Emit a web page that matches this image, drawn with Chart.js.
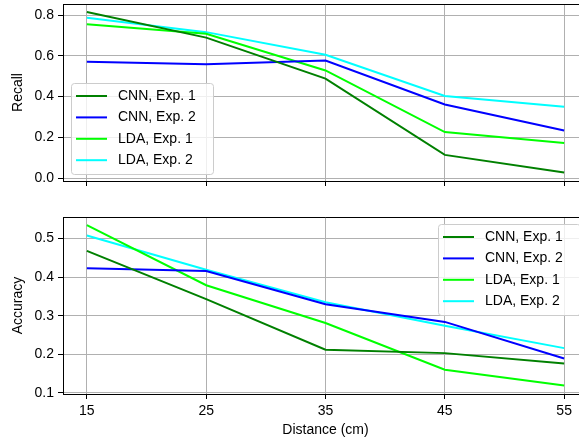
<!DOCTYPE html>
<html>
<head>
<meta charset="utf-8">
<script src="https://cdn.jsdelivr.net/npm/chart.js"></script>
<style>
  html, body { margin: 0; padding: 0; background: #fff; overflow: hidden; width: 579px; height: 443px; }
  canvas { display: block; }
</style>
</head>
<body>
<canvas id="recallChart" width="588" height="200"></canvas>
<canvas id="accChart" width="588" height="243"></canvas>
<script>
// du lieu doc tu hinh
const distances = [15, 25, 35, 45, 55];
const seriesNames = ['CNN, Exp. 1', 'CNN, Exp. 2', 'LDA, Exp. 1', 'LDA, Exp. 2'];
const seriesColors = ['#008000', '#0000ff', '#00ff00', '#00ffff'];

const recallCnn1 = [0.815, 0.689, 0.488, 0.114, 0.028];
const recallCnn2 = [0.571, 0.558, 0.577, 0.361, 0.234];
const recallLda1 = [0.755, 0.708, 0.528, 0.226, 0.172];
const recallLda2 = [0.787, 0.716, 0.605, 0.403, 0.350];

const accCnn1 = [0.468, 0.343, 0.212, 0.203, 0.176];
const accCnn2 = [0.423, 0.416, 0.330, 0.284, 0.189];
const accLda1 = [0.535, 0.379, 0.281, 0.160, 0.119];
const accLda2 = [0.508, 0.419, 0.335, 0.274, 0.216];

const recallTicks = [0.0, 0.2, 0.4, 0.6, 0.8];
const accTicks = [0.1, 0.2, 0.3, 0.4, 0.5];

Chart.defaults.font.family = "'Liberation Sans', Arial, sans-serif";
Chart.defaults.font.size = 14;
Chart.defaults.color = '#000';

function makeDatasets(lists) {
  return lists.map((vals, k) => ({
    label: seriesNames[k],
    data: distances.map((d, i) => ({ x: d, y: vals[i] })),
    borderColor: seriesColors[k],
    backgroundColor: seriesColors[k],
    borderWidth: 2,
    pointRadius: 0,
    tension: 0
  }));
}

// vien tren + phai, va chu giai trong khung
const boxPlugin = {
  id: 'boxPlugin',
  afterDatasetsDraw(chart, args, opts) {
    const ctx = chart.ctx;
    const a = chart.chartArea;
    ctx.save();
    ctx.strokeStyle = '#000';
    ctx.lineWidth = 1;
    ctx.beginPath();
    ctx.moveTo(a.left, a.top + 0.5);
    ctx.lineTo(a.right, a.top + 0.5);
    ctx.moveTo(a.right - 0.5, a.top);
    ctx.lineTo(a.right - 0.5, a.bottom);
    ctx.stroke();

    const w = 142, h = 91, rowH = 21.4;
    let left, top;
    if (opts.where === 'lowerleft') {
      left = a.left + 8;
      top = a.bottom - 7 - h;
    } else {
      left = a.right - 150;
      top = a.top + 7;
    }
    ctx.fillStyle = 'rgba(255,255,255,0.8)';
    ctx.strokeStyle = '#cccccc';
    ctx.beginPath();
    ctx.roundRect(left + 0.5, top + 0.5, w, h, 3);
    ctx.fill();
    ctx.stroke();

    ctx.font = "14px 'Liberation Sans', Arial, sans-serif";
    ctx.textBaseline = 'middle';
    ctx.textAlign = 'left';
    chart.data.datasets.forEach((ds, i) => {
      const y = top + 13 + i * rowH;
      ctx.strokeStyle = ds.borderColor;
      ctx.lineWidth = 2;
      ctx.beginPath();
      ctx.moveTo(left + 5, y);
      ctx.lineTo(left + 36, y);
      ctx.stroke();
      ctx.fillStyle = '#000';
      ctx.fillText(ds.label, left + 47, y);
    });
    ctx.restore();
  }
};

function xScale(showLabels, h) {
  return {
    type: 'linear',
    min: 13,
    max: 57,
    afterBuildTicks: s => { s.ticks = distances.map(v => ({ value: v })); },
    afterFit: s => { s.height = h; s.paddingLeft = 0; s.paddingRight = 0; },
    grid: { color: '#b0b0b0', lineWidth: 1, tickColor: '#000', tickLength: 5 },
    border: { color: '#000', width: 1 },
    ticks: { display: showLabels, padding: 4, maxRotation: 0 },
    title: { display: showLabels, text: 'Distance (cm)', padding: { top: 0, bottom: 4 } }
  };
}

function yScale(title, lo, hi, tickVals) {
  return {
    min: lo,
    max: hi,
    afterBuildTicks: s => { s.ticks = tickVals.map(v => ({ value: v })); },
    afterFit: s => { s.width = 63; s.paddingTop = 0; s.paddingBottom = 0; },
    grid: { color: '#b0b0b0', lineWidth: 1, tickColor: '#000', tickLength: 5 },
    border: { color: '#000', width: 1 },
    ticks: { padding: 4, callback: v => v.toFixed(1) },
    title: { display: true, text: title, padding: { top: 10, bottom: 0 } }
  };
}

const recall = new Chart('recallChart', {
  type: 'line',
  data: { datasets: makeDatasets([recallCnn1, recallCnn2, recallLda1, recallLda2]) },
  options: {
    responsive: false,
    animation: false,
    devicePixelRatio: 1,
    layout: { padding: { top: 4, left: 0, right: 0, bottom: 0 } },
    plugins: { legend: { display: false }, tooltip: { enabled: false }, boxPlugin: { where: 'lowerleft' } },
    scales: {
      x: xScale(false, 19),
      y: yScale('Recall', -0.014, 0.854, recallTicks)
    }
  },
  plugins: [boxPlugin]
});

const acc = new Chart('accChart', {
  type: 'line',
  data: { datasets: makeDatasets([accCnn1, accCnn2, accLda1, accLda2]) },
  options: {
    responsive: false,
    animation: false,
    devicePixelRatio: 1,
    layout: { padding: { top: 17, left: 0, right: 0, bottom: 0 } },
    plugins: { legend: { display: false }, tooltip: { enabled: false }, boxPlugin: { where: 'upperright' } },
    scales: {
      x: xScale(true, 49),
      y: yScale('Accuracy', 0.097, 0.556, accTicks)
    }
  },
  plugins: [boxPlugin]
});
</script>
</body>
</html>
